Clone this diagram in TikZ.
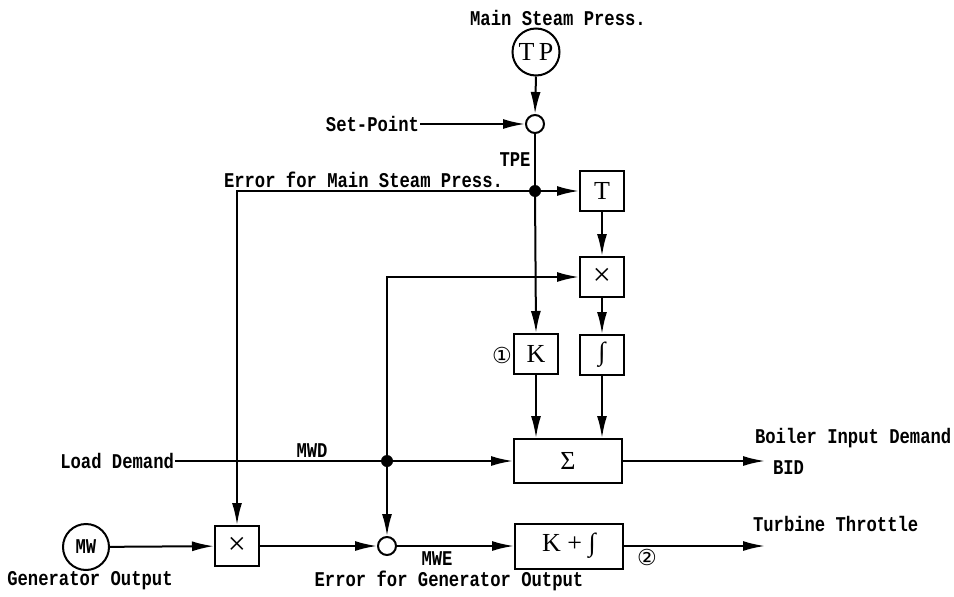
\documentclass[tikz,border=0pt]{standalone}
\usepackage{fontspec}
\setmainfont{Liberation Serif}
\newfontfamily\labfont{Liberation Mono}[FakeStretch=0.82]
\newfontfamily\symfont{DejaVu Sans}
\usetikzlibrary{arrows.meta}
\begin{document}
\begin{tikzpicture}[x=1pt,y=-1pt,
  line width=2pt,
  arr/.style={-{Latex[length=22pt,width=10pt]}},
  lbl/.style={inner sep=0pt, font=\labfont\bfseries\fontsize{21}{21}\selectfont},
  blk/.style={draw, minimum width=44pt, minimum height=40pt, inner sep=0pt, font=\fontsize{26}{26}\selectfont},
  sumc/.style={circle, draw, minimum size=18pt, inner sep=0pt},
  jdot/.style={circle, fill, minimum size=12pt, inner sep=0pt},
  circ/.style={inner sep=0pt, font=\symfont\fontsize{22}{22}\selectfont}
]
\useasboundingbox (0,0) rectangle (954,597);

% top
\node[lbl] (mtxt) at (558,18) {Main Steam Press.};
\node[circle, draw, minimum size=47pt, inner sep=0pt, font=\fontsize{26}{26}\selectfont] (tp) at (536,52) {T\,P};
\node[sumc] (s1) at (535,124) {};
\node[lbl, anchor=east] (setp) at (420,124) {Set-Point};
\draw[arr] (setp.east) -- (s1.west);
\draw[arr] (tp.south) -- (s1.north);
\node[lbl] (tpe) at (515,160) {TPE};
\node[jdot] (d1) at (535,191) {};
\draw (s1.south) -- (d1.center);
\node[blk] (T) at (602,191) {T};
\draw[arr] (d1.center) -- (T.west);
\node[lbl, anchor=west] (emsp) at (223,180) {Error for Main Steam Press.};
\coordinate (c1) at (237,191);
\node[blk, font=\fontsize{32}{32}\selectfont] (x2) at (237,546) {×};
\draw[arr] (d1.center) -- (c1) -- (x2.north);

% middle right
\node[blk, font=\fontsize{32}{32}\selectfont] (x1) at (602,277) {×};
\draw[arr] (T) -- (x1);
\node[blk] (K) at (536,354) {K};
\draw[arr] (d1.center) -- (K.north);
\node[circ] (n1) at (502,355) {①};
\node[blk] (I) at (602,355) {∫};
\draw[arr] (x1) -- (I);
\node[blk, minimum width=108pt, minimum height=44pt] (S) at (568,461) {Σ};
\draw[arr] (K.south) -- (K.south |- S.north);
\draw[arr] (I.south) -- (I.south |- S.north);

% load demand
\node[lbl, anchor=east] (ld) at (175,461) {Load Demand};
\node[jdot] (d2) at (387,461) {};
\draw (ld.east) -- (d2.center);
\draw[arr] (d2.center) -- (S.west);
\node[lbl] (mwd) at (312,451) {MWD};
\coordinate (c2) at (387,277);
\draw[arr] (d2.center) -- (c2) -- (x1.west);

% bottom
\node[sumc] (s2) at (387,546) {};
\draw[arr] (d2.center) -- (s2.north);
\node[circle, draw, minimum size=46pt, inner sep=0pt, lbl] (mw) at (86,547) {MW};
\draw[arr] (mw) -- (x2);
\draw[arr] (x2) -- (s2);
\node[blk, minimum width=108pt, minimum height=45pt] (KI) at (569,546) {K + ∫};
\draw[arr] (s2) -- (KI);
\node[lbl] (mwe) at (437,559) {MWE};
\node[lbl] (go) at (90,581) {Generator Output};
\node[lbl] (ego) at (449,581) {Error for Generator Output};

% outputs
\coordinate (bidend) at (765,461);
\draw[arr] (S.east) -- (bidend);
\node[lbl, anchor=west] (bid) at (772,468) {BID};
\node[lbl, anchor=west] (bidt) at (754,438) {Boiler Input Demand};
\coordinate (ttend) at (765,546);
\draw[arr] (KI.east) -- (ttend);
\node[lbl, anchor=west] (tt) at (752,524) {Turbine Throttle};
\node[circ] (n2) at (647,557) {②};
\end{tikzpicture}
\end{document}
